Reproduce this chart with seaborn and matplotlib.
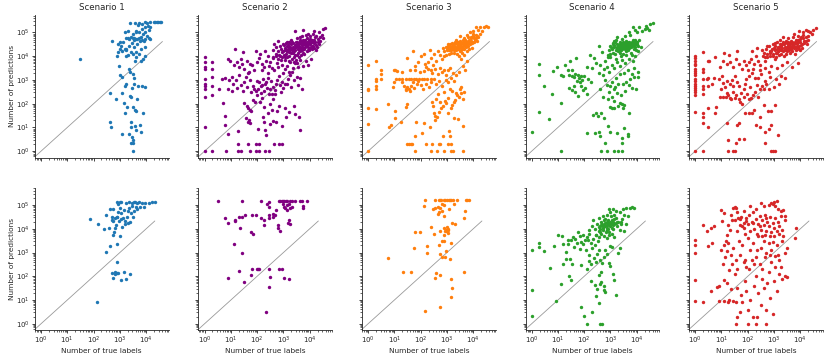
import matplotlib
matplotlib.use("Agg")
import matplotlib.pyplot as plt
import numpy as np
import pandas as pd
import seaborn as sns

# points, as (log10 true labels, log10 predictions)
s1_top = [(1.49,3.89),
    (4.16,5.44),(4.28,5.46),(4.40,5.46),(4.52,5.46),(4.58,5.46),(4.45,5.45),(4.34,5.44),
    (3.39,5.39),(3.58,5.42),(3.73,5.39),(3.97,5.44),(3.85,5.35),(3.95,5.25),(4.07,5.28),(4.16,5.21),(4.05,5.38),(3.70,5.30),
    (3.18,5.0),(3.30,5.07),(3.49,4.93),(3.61,5.07),(3.73,5.0),(3.85,5.14),(3.97,5.03),(4.03,4.86),(3.79,4.79),(3.55,4.75),
    (3.42,4.83),(3.67,4.72),(3.91,4.65),(3.30,4.75),(4.10,5.10),(3.60,5.0),(3.88,4.95),
    (3.24,4.75),(3.36,4.72),(3.49,4.75),(3.61,4.72),(3.73,4.75),(3.85,4.70),(3.97,4.72),(4.09,4.75),(3.55,4.68),(3.78,4.66),
    (2.69,4.65),(2.94,4.51),(3.12,4.58),(3.18,4.31),(3.06,4.44),(3.22,4.28),(3.36,4.44),(3.55,4.38),(3.67,4.51),(3.79,4.31),
    (3.97,4.38),(4.16,4.72),(3.45,4.55),(3.02,4.62),
    (2.94,4.17),(3.0,4.31),(3.10,4.24),(3.24,4.31),(3.42,4.17),(3.61,4.19),(3.73,4.10),(3.97,4.03),(3.88,3.89),(3.24,4.0),
    (3.30,4.06),(2.90,4.0),(3.61,3.96),(3.57,3.78),(3.79,3.82),(3.50,4.10),
    (2.96,3.57),(3.36,3.47),(3.39,3.33),(3.49,3.25),(3.0,3.19),(3.10,3.125),(3.55,3.10),
    (3.22,2.81),(3.18,2.76),(3.52,2.81),(3.70,2.76),(3.85,2.75),(3.97,2.71),(3.46,2.67),
    (2.63,2.47),(3.10,2.47),(3.39,2.33),(3.42,2.30),(3.67,2.22),(2.85,2.22),
    (3.15,2.01),(3.27,1.88),(3.49,1.88),(3.56,1.74),(3.63,1.71),(3.89,1.63),(3.20,1.60),
    (2.61,1.22),(2.66,1.04),(3.08,0.72),(3.41,1.22),(3.41,1.0),(3.58,1.08),(3.75,1.11),(3.80,0.81),(3.61,0.875),
    (3.34,0.72),(3.45,0.58),(3.49,0.49),(3.44,0.33),(3.51,0.33),(3.49,0.0)]

s2_top = [(0,3.96),(0,3.75),(0,3.54),(0,3.47),(0,3.06),(0,2.85),(0,2.75),(0,2.64),(0,2.29),(0,1.04),(0,0),
    (0.3,3.75),(0.3,3.47),(0.3,3.12),(0.3,2.75),(0.3,2.36),(0.3,0),
    (0.83,0),(1.26,0),(1.38,0),(1.74,0),(1.96,0),(2.09,0),(2.29,0),(2.45,0),
    (1.26,0.3),(1.65,0.3),(1.96,0.3),(2.09,0.3),(2.66,0.3),(2.84,0.3),(2.94,0.3),
    (0.79,1.5),(0.79,1.11),(0.91,0.72),(1.29,0.86),(1.58,1.39),(1.65,1.25),(1.74,1.18),(1.70,1.30),(2.02,0.94),(2.23,1.42),
    (2.27,1.25),(2.29,0.9),(2.33,0.69),(2.48,1.14),(2.62,1.28),(2.72,1.22),(2.96,1.08),(3.39,1.92),(3.60,1.46),(3.62,0.9),
    (3.2,1.67),(3.05,1.81),(2.84,1.92),(2.75,1.70),(2.55,1.75),(1.52,2.01),(1.61,1.92),(1.67,1.81),(1.72,1.72),(1.78,1.69),
    (1.85,2.15),(1.93,2.06),(2.10,2.06),(2.17,2.25),(2.26,1.88),(2.48,1.97),(2.60,2.22),(2.67,2.39),(0.7,2.01),(0.55,2.6),
    (3.10,1.45),(3.45,1.55),(2.40,1.60),
    (0.67,3.06),(0.76,3.08),(0.94,3.01),(1.03,3.12),(1.19,2.99),(1.31,3.22),(1.38,2.78),(1.5,2.92),(1.56,3.12),(1.65,3.31),
    (1.74,2.99),(1.84,2.75),(1.89,2.64),(1.96,2.53),(2.01,2.36),(2.09,2.92),(2.13,2.75),(2.21,3.06),(2.29,2.85),(2.38,2.67),
    (2.45,2.43),(2.53,2.97),(2.62,2.72),(2.69,2.58),(2.77,3.0),(2.86,2.78),(2.96,2.92),(3.08,2.81),(3.18,3.06),(3.26,3.19),
    (3.34,3.33),(3.41,2.99),(3.50,3.12),(0.91,2.61),(1.05,2.53),(1.22,2.68),(1.45,2.55),(1.60,2.70),(2.05,2.60),(2.15,2.45),
    (2.25,2.55),(2.35,2.90),(2.50,2.60),(2.58,2.40),(2.72,2.85),(2.85,3.15),(2.90,2.50),(3.00,2.65),(3.15,2.85),(3.30,2.70),
    (3.55,2.80),(3.65,3.10),(3.70,2.60),(1.10,2.85),(1.75,2.50),(2.40,3.10),(2.20,2.80),(2.00,2.95),
    (0.88,3.89),(0.98,3.82),(1.13,3.61),(1.23,3.75),(1.31,3.54),(1.44,3.68),(1.52,3.47),(1.62,3.82),(1.72,3.68),(1.80,3.61),
    (1.89,3.40),(1.98,3.75),(2.08,3.92),(2.17,3.68),(2.26,3.54),(2.35,3.82),(2.42,4.03),(2.50,3.75),(2.60,3.92),(2.70,4.10),
    (2.78,3.89),(2.87,4.00),(2.96,4.17),(3.05,3.96),(3.14,4.24),(3.24,4.31),(1.15,4.31),(1.47,4.17),(1.95,4.24),(2.55,3.50),
    (2.65,3.40),(2.80,3.55),(2.95,3.65),(3.05,3.45),(3.15,3.60),(3.25,3.75),(3.35,3.50),(3.45,3.70),(3.55,3.55),(3.65,3.85),
    (3.75,3.60),(3.85,3.80),(3.95,3.65),(4.05,3.90),(2.20,3.40),(2.40,3.30),(1.70,3.35),(1.40,3.90),(2.10,4.10),(2.30,4.20),
    (2.45,3.60),(2.75,3.70),(2.90,3.85),(3.00,3.30),(3.20,3.35),
    (2.80,4.65),(3.45,5.07),(3.75,5.11),(4.18,5.05),(4.35,5.00),(4.50,5.14),(4.58,5.18),(4.38,4.79),(4.25,4.85),(4.45,4.90),
    (3.00,4.20),(3.05,4.35),(3.10,4.10),(3.15,4.45),(3.20,4.00),(3.25,4.25),(3.30,4.50),(3.35,4.15),(3.40,4.35),(3.45,4.05),
    (3.50,4.60),(3.55,4.30),(3.60,4.45),(3.65,4.20),(3.70,4.55),(3.75,4.35),(3.80,4.65),(3.85,4.45),(3.90,4.75),(3.95,4.50),
    (4.00,4.62),(4.05,4.40),(4.10,4.70),(4.15,4.55),(4.20,4.80),(4.30,4.60),(4.40,4.65),(4.50,4.75),
    (3.02,4.05),(3.12,4.25),(3.22,4.40),(3.32,4.30),(3.42,4.20),(3.52,4.45),(3.62,4.35),(3.72,4.25),(3.82,4.55),(3.92,4.40),
    (4.02,4.50),(4.12,4.45),(4.22,4.60),(3.38,4.55),(3.48,4.40),(3.58,4.55),(3.68,4.65),(3.78,4.50),(3.88,4.60),(3.98,4.70),
    (4.08,4.60),(3.28,4.12),(3.18,4.30),(2.92,4.30),(2.85,4.05),(2.95,3.95),(3.08,3.85),(3.58,3.95),(3.68,4.05),(3.78,4.10),
    (3.88,4.20),(3.98,4.25),(4.08,4.30),(4.18,4.35),(4.28,4.40),(3.48,3.85),(3.40,3.95),(3.62,4.80),(3.72,4.85),(3.85,4.90),
    (3.50,4.75),(3.30,4.70),(3.20,4.60),(3.10,4.55),(2.70,4.40),(2.60,4.25),(2.65,4.50),(3.92,4.95),(4.02,4.85),(4.12,4.95),
    (4.25,4.25),(4.35,4.50),(3.45,4.25),(3.55,4.15),(3.65,4.55),(3.75,4.70),(3.35,4.40),(3.25,4.55),(3.15,4.20),(3.60,4.25),
    (3.70,4.40),(3.80,4.30),(3.90,4.50),(4.00,4.35),
    (3.03,4.48),(3.13,4.62),(3.23,4.18),(3.33,4.62),(3.43,4.48),(3.53,4.05),(3.63,4.68),(3.73,4.12),(3.83,4.38),(3.93,4.28),
    (4.03,4.72),(4.13,4.62),(4.23,4.48),(4.33,4.72),(3.07,4.28),(3.17,4.48),(3.27,4.38),(3.37,4.22),(3.47,4.62),(3.57,4.42),
    (3.67,4.32),(3.77,4.58),(3.87,4.52),(3.97,4.58),(4.07,4.42),(4.17,4.68),(3.52,4.52),(3.62,4.62),(3.72,4.48),(3.82,4.70),
    (2.98,4.52),(2.88,4.45),(2.78,4.20),(2.72,4.02),(2.62,3.98),(3.12,3.95),(3.22,3.80),(3.32,3.90),(3.42,3.75),(3.52,3.70)]

s3_top = [(0,3.61),(0,2.64),(0,2.57),(0,1.83),(0,1.14),(0,0),
    (0.3,3.82),(0.3,3.06),(0.3,2.94),(0.3,2.75),(0.3,2.61),(0.3,1.78),
    (0.49,3.44),(0.49,3.26),(0.49,3.06),(0.77,1.97),(0.79,1.04),(0.89,1.11),(1.01,1.39),(1.04,1.69),(1.26,1.25),(1.46,1.88),(1.50,1.97),
    (1.77,0),(2.38,0),(2.62,0),(2.87,0),(3.17,0),(3.23,0),(3.6,0),
    (1.5,0.3),(1.55,0.3),(1.62,0.3),(1.67,0.3),(2.2,0.3),(2.44,0.3),(2.68,0.3),(2.74,0.3),(3.05,0.3),(3.17,0.3),
    (1.77,0.62),(2.04,0.76),(1.83,1.22),(2.11,1.18),(2.35,1.04),(2.84,0.62),(3.09,0.86),(3.12,0.62),(3.6,1.08),(3.41,1.36),(3.25,1.39),
    (2.5,1.6),(2.53,1.5),(2.55,1.32),(2.62,1.45),(2.71,1.67),(2.79,1.81),(2.85,1.92),(2.97,2.01),(3.05,1.6),(3.14,1.81),
    (3.2,1.94),(3.25,2.06),(3.32,2.15),(3.38,2.36),(3.54,2.71),(3.48,2.61),(3.35,2.47),(3.2,2.53),(3.05,2.25),(2.93,2.11),
    (2.74,2.08),(2.6,2.22),(2.45,2.06),(2.48,1.92),(2.65,2.40),(3.45,2.30),(3.55,2.45),(3.65,2.50),(3.62,2.20),(2.90,2.50),(3.10,2.60),
    (1.06,3.06),(1.16,3.06),(1.28,3.06),(1.43,3.06),(1.55,3.06),(1.65,3.06),(1.74,3.06),(1.83,3.06),(1.95,3.06),(2.04,3.06),
    (2.13,3.06),(2.23,3.06),(2.38,3.06),(2.50,3.06),(1.43,2.64),(1.46,2.57),(1.55,2.61),(1.65,2.75),(1.74,2.67),(1.86,2.81),
    (1.38,2.75),(1.50,2.70),(1.60,2.55),(1.30,2.90),(1.70,2.90),(1.90,2.95),(2.00,2.80),(2.20,2.85),(2.30,2.70),(2.40,2.90),
    (2.60,2.85),(2.70,2.95),(2.80,2.75),(2.95,3.00),(3.05,2.90),(3.15,3.10),(3.25,2.95),(2.10,2.60),(0.95,2.70),(1.00,2.90),
    (0.97,3.40),(1.04,3.40),(1.10,3.37),(1.28,3.33),(1.59,3.40),(1.77,3.44),(1.96,3.33),(2.13,3.36),(2.28,3.47),(2.40,3.44),
    (2.56,3.47),(2.72,3.50),(2.87,3.44),(3.05,3.40),(3.23,3.30),(2.20,3.55),(2.45,3.30),(2.65,3.25),(2.80,3.35),(2.95,3.20),
    (3.10,3.50),(3.35,3.20),(3.45,3.35),(3.60,3.60),(3.75,3.80),(3.68,3.40),
    (1.50,3.92),(1.71,4.20),(1.90,3.75),(2.02,4.03),(2.14,4.10),(2.16,3.68),(2.28,3.75),(2.40,3.92),(2.46,3.61),(2.52,4.10),
    (2.65,4.20),(2.74,4.06),(2.83,3.89),(2.60,3.80),(2.35,4.25),(1.80,3.60),(2.90,4.00),
    (2.95,4.40),(3.00,4.25),(3.05,4.50),(3.10,4.30),(3.15,4.15),(3.20,4.45),(3.25,4.35),(3.30,4.60),(3.35,4.25),(3.40,4.50),
    (3.45,4.35),(3.50,4.65),(3.55,4.40),(3.60,4.55),(3.65,4.30),(3.70,4.70),(3.75,4.50),(3.80,4.80),(3.85,4.60),(3.90,4.75),
    (3.95,4.55),(4.00,4.85),(4.05,4.70),(4.10,4.90),(4.15,4.65),(4.20,4.80),
    (3.02,4.35),(3.12,4.40),(3.22,4.30),(3.32,4.40),(3.42,4.30),(3.52,4.25),(3.62,4.45),(3.72,4.40),(3.82,4.45),(3.92,4.65),
    (4.02,4.60),(3.28,4.15),(3.38,4.10),(3.48,4.20),(3.58,4.15),(3.18,4.55),(3.08,4.10),(2.98,4.05),(3.45,4.00),(3.55,3.90),
    (3.65,4.05),(3.75,4.20),(3.85,4.30),(3.95,4.35),(3.35,4.70),(3.50,4.85),(3.65,4.75),(3.78,4.90),(3.88,5.00),(3.98,4.95),
    (4.12,4.75),(4.25,4.95),(3.28,4.45),(3.40,4.40),(3.60,4.35),(3.70,4.55),(3.80,4.60),(3.45,4.50),(3.55,4.60),
    (3.03,4.45),(3.13,4.50),(3.23,4.40),(3.33,4.55),(3.43,4.62),(3.53,4.52),(3.63,4.62),(3.73,4.65),(3.83,4.70),(3.93,4.80),
    (4.03,4.75),(4.13,4.85),(3.07,4.28),(3.17,4.35),(3.27,4.25),(3.37,4.35),(3.47,4.45),(3.57,4.32),(3.67,4.48),(3.77,4.55),
    (3.87,4.50),(3.97,4.62),(3.40,4.58),(3.50,4.50),(3.60,4.70),(3.70,4.62),(3.25,4.50),(3.15,4.25),(2.90,4.20),(2.85,4.35),
    (4.09,5.21),(4.27,5.25),(4.40,5.21),(4.48,5.28),(4.57,5.21),(4.20,5.10),(4.35,5.05),(4.00,5.05)]

s4_top = [(0,0.83),(0.3,1.67),(0.3,3.68),(0.3,3.22),(0.46,2.75),(0.68,1.36),(0.77,2.43),(0.83,3.36),(0.98,3.54),(1.1,0),
    (1.13,2.01),(1.1,3.22),(1.18,3.18),(1.26,3.61),(1.45,3.80),
    (1.44,3.22),(1.52,3.17),(1.60,3.12),(1.66,3.26),(1.76,3.22),(1.81,3.08),(1.88,3.15),(1.93,2.99),(2.01,3.17),(1.85,2.92),
    (1.72,2.94),(1.60,2.75),(1.44,2.67),(1.52,2.57),(1.66,2.50),(1.76,2.33),(1.88,2.75),(1.96,2.57),(2.04,2.67),(2.10,2.40),
    (1.40,3.40),(1.55,3.40),(2.15,3.05),(2.25,2.90),
    (2.35,1.53),(2.44,1.60),(2.54,1.50),(2.65,1.60),(2.75,1.39),(2.4,0.76),(2.11,0.76),(2.55,0.83),(2.62,0.62),(2.81,0.35),
    (2.65,0),(2.87,0),(3.13,0),(3.29,0),(3.45,0),(2.9,1.08),(3.0,0.81),(3.24,0.76),(3.42,0.56),(3.42,0.35),(3.51,0.97),
    (3.67,0.72),(3.67,0.65),
    (3.0,1.88),(3.06,1.81),(3.12,1.81),(3.38,2.01),(3.44,1.97),(3.50,1.94),(3.48,1.81),(3.70,1.60),(3.30,1.90),
    (2.87,2.78),(3.0,2.75),(3.06,2.92),(3.12,2.64),(3.18,2.71),(3.30,2.81),(3.48,2.85),(3.60,2.92),(3.70,2.78),(3.82,2.67),
    (3.96,2.61),(3.75,3.06),(3.91,3.12),(4.03,3.12),(2.60,2.60),(2.70,2.30),(2.95,2.50),(3.25,2.45),(3.40,2.35),(3.55,2.55),
    (2.80,3.00),(3.20,3.10),(3.35,3.25),(3.50,3.30),(3.65,3.40),(3.90,3.50),(4.05,3.35),(3.80,3.25),(2.90,2.20),(3.05,2.30),(3.15,2.10),
    (1.70,3.92),(2.23,4.06),(2.38,3.92),(2.55,4.44),(2.67,4.17),(2.79,3.82),(2.89,3.96),(2.98,4.10),(2.62,3.61),(2.74,3.47),
    (2.86,3.54),(2.45,3.70),(2.30,3.50),(2.10,3.55),(2.55,3.30),(2.70,3.20),(2.95,3.35),(3.05,3.65),(3.15,3.50),(3.25,3.75),
    (3.35,3.60),(3.45,3.85),(3.55,3.70),(3.70,3.90),(3.85,3.80),(3.95,4.00),
    (3.00,4.45),(3.05,4.30),(3.10,4.55),(3.15,4.40),(3.20,4.25),(3.25,4.50),(3.30,4.35),(3.35,4.60),(3.40,4.45),(3.45,4.30),
    (3.50,4.55),(3.55,4.40),(3.60,4.65),(3.65,4.50),(3.70,4.35),(3.75,4.55),(3.80,4.45),(3.85,4.70),(3.90,4.50),(3.95,4.40),
    (4.00,4.60),(4.05,4.45),(4.10,4.70),
    (3.08,4.15),(3.18,4.10),(3.28,4.20),(3.38,4.15),(3.48,4.10),(3.58,4.20),(3.68,4.25),(3.78,4.15),(3.88,4.30),(3.98,4.25),
    (3.12,4.65),(3.22,4.70),(3.32,4.48),(3.42,4.72),(3.52,4.45),(3.62,4.38),(3.72,4.62),(3.82,4.60),(3.92,4.68),(4.02,4.50),
    (3.35,4.40),(3.45,4.50),(3.55,4.30),(3.65,4.42),(3.75,4.48),(3.40,4.25),(3.50,4.35),(3.60,4.50),(3.70,4.55),(2.95,4.25),
    (2.90,4.05),(3.00,3.95),(3.20,3.90),(3.40,4.00),(3.60,4.05),(3.80,4.05),(4.05,4.20),(4.15,4.40),(3.25,4.80),(3.55,4.85),(3.75,4.90),
    (3.03,4.38),(3.13,4.48),(3.23,4.38),(3.33,4.28),(3.43,4.38),(3.53,4.48),(3.63,4.58),(3.73,4.45),(3.83,4.52),(3.93,4.58),
    (3.08,4.50),(3.18,4.58),(3.28,4.42),(3.38,4.52),(3.48,4.62),(3.58,4.55),(3.68,4.32),(3.78,4.38),(3.88,4.42),(3.98,4.52),
    (3.45,4.42),(3.55,4.48),(3.65,4.38),(3.35,4.32),(3.25,4.35),
    (3.85,5.25),(4.1,5.21),(4.34,5.28),(4.52,5.35),(4.62,5.39),(4.20,5.05),(4.30,5.15),(4.00,5.00),(3.95,5.10),(4.40,5.20),
    (4.45,5.10),(3.70,5.00)]

s5_top = [(0,4.03),(0,3.92),(0,3.78),(0,3.68),(0,3.61),(0,3.47),(0,3.36),(0,3.31),(0,3.19),(0,3.06),(0,2.94),(0,2.85),
    (0,2.75),(0,2.67),(0,2.57),(0,2.5),(0,2.36),(0,1.67),(0,0),
    (0.3,4.17),(0.3,3.47),(0.3,3.33),(0.3,3.06),(0.3,2.75),(0.3,2.61),(0.3,2.43),(0.3,1.6),(0.3,1.46),(0.3,1.18),(0.3,0),
    (0.5,3.82),(0.5,3.08),(0.5,2.75),(0.5,1.83),(0.49,1.0),
    (1.26,0),(1.44,0),(1.5,0),(2.9,0),(2.96,0),(3.02,0),
    (1.23,1.18),(1.26,0.49),(1.56,0.35),(1.68,0.53),(1.84,0.53),(1.6,1.11),(1.68,1.18),(1.88,1.6),(2.03,1.6),(2.15,1.6),
    (2.33,1.11),(2.48,1.04),(2.60,1.94),(2.66,0.83),(2.82,0.94),(2.87,1.11),(3.15,0.67),(2.66,0.35),(2.9,1.69),(2.78,1.69),
    (3.02,1.94),(2.25,1.75),(2.45,1.45),
    (0.79,1.88),(0.77,1.60),(0.95,2.29),(1.07,2.29),(1.16,2.29),(1.20,2.47),(1.26,2.36),(1.32,2.25),(1.38,2.18),(1.44,2.5),
    (1.50,2.25),(1.56,2.36),(1.65,2.22),(1.72,2.08),(1.80,1.97),(1.86,2.29),(1.98,2.43),(2.04,2.18),(2.12,2.25),(2.20,2.36),
    (2.29,2.50),(2.38,2.29),(2.46,2.64),(2.55,2.75),(2.60,2.61),(2.70,2.85),
    (0.46,3.06),(0.65,2.82),(0.71,3.10),(0.89,3.03),(1.01,3.17),(1.07,2.89),(1.23,2.96),(1.32,2.82),(1.40,2.99),(1.50,3.15),
    (1.59,2.92),(1.68,2.75),(1.86,2.61),(1.95,3.03),(2.03,3.17),(2.16,3.31),(2.28,3.08),(2.40,3.10),(2.52,3.24),(2.65,2.97),
    (2.84,3.12),(3.06,3.03),(3.25,3.15),(3.43,3.10),(1.00,2.60),(1.15,2.70),(1.75,2.45),(2.10,2.70),(2.35,2.80),(2.80,2.60),
    (3.00,2.70),(3.20,2.85),(1.45,2.75),(1.90,2.85),
    (0.52,3.82),(0.77,3.96),(0.95,3.54),(1.07,3.82),(1.20,3.68),(1.32,3.75),(1.44,3.54),(1.56,3.89),(1.68,3.68),(1.77,3.47),
    (1.86,3.82),(1.95,3.61),(2.04,3.75),(2.13,3.89),(2.23,3.68),(2.31,4.03),(2.40,3.82),(2.48,3.61),(2.57,4.03),(2.65,3.82),
    (2.74,3.96),(2.84,4.15),(2.95,4.03),(3.05,3.89),(3.17,4.24),(2.00,3.40),(2.20,3.45),(2.45,3.40),(2.65,3.50),(2.80,3.35),
    (2.90,3.60),(3.10,3.50),(3.30,3.65),(3.50,3.75),(3.70,3.55),(3.90,3.70),(1.60,4.20),(1.30,4.05),(1.10,4.15),(2.15,4.20),
    (2.35,4.35),(2.55,4.25),
    (2.70,4.30),(2.80,4.45),(2.90,4.20),(3.00,4.35),(3.05,4.55),(3.10,4.15),(3.15,4.40),(3.20,4.05),(3.25,4.30),(3.30,4.50),
    (3.35,4.20),(3.40,4.40),(3.45,4.65),(3.50,4.30),(3.55,4.50),(3.60,4.15),(3.65,4.40),(3.70,4.60),(3.75,4.35),(3.80,4.55),
    (3.85,4.25),(3.90,4.70),(3.95,4.45),(4.00,4.60),(4.05,4.35),(4.10,4.75),(4.15,4.55),(4.20,4.65),(4.25,4.50),
    (2.85,4.00),(2.95,4.10),(3.08,3.95),(3.18,4.25),(3.28,4.10),(3.38,4.00),(3.48,4.20),(3.58,4.35),(3.68,4.20),(3.78,4.10),
    (3.88,4.40),(3.98,4.25),(4.08,4.50),(3.12,4.60),(3.22,4.70),(3.32,4.35),(3.42,4.55),(3.52,4.75),(3.62,4.55),(3.72,4.80),
    (3.82,4.70),(3.92,4.85),(4.02,4.80),(4.12,4.90),(2.75,4.10),(2.65,3.95),(2.60,4.15),(2.95,4.50),(3.35,4.80),(3.55,4.60),
    (3.65,4.30),(3.45,4.10),(3.75,4.45),(3.85,4.55),(3.95,4.30),(3.25,4.45),(3.15,4.20),(3.05,4.25),(3.40,4.30),(3.60,4.45),
    (3.03,4.42),(3.13,4.32),(3.23,4.52),(3.33,4.62),(3.43,4.25),(3.53,4.45),(3.63,4.65),(3.73,4.50),(3.83,4.40),(3.93,4.60),
    (4.03,4.48),(4.13,4.65),(3.08,4.12),(3.18,4.38),(3.28,4.28),(3.38,4.52),(3.48,4.38),(3.58,4.25),(3.68,4.52),(3.78,4.62),
    (3.88,4.52),(3.98,4.72),(2.93,4.30),(2.83,4.20),(2.73,4.42),(3.50,4.58),(3.70,4.38),(3.90,4.35),(4.20,4.80),(4.30,4.70),
    (3.76,4.93),(3.94,5.07),(4.12,5.0),(4.21,5.11),(4.37,5.03),(4.49,5.11),(4.58,5.17),(4.31,4.86),(4.45,4.95),(4.30,5.05)]

s1_bot = [(1.85,4.4),(2.18,4.19),(2.41,3.99),(2.57,4.03),(2.48,4.58),(2.63,4.82),(2.75,4.82),(2.69,4.51),(2.81,4.45),
    (2.75,4.31),(2.90,4.48),(2.94,4.72),(3.0,4.86),(3.06,4.65),(3.12,4.44),(3.18,4.31),(3.27,4.51),(3.36,4.86),(3.42,4.65),
    (3.49,4.51),(3.55,4.75),(3.61,4.93),(3.67,5.07),(3.73,5.14),(3.85,5.07),(3.97,5.10),(4.09,5.08),(4.21,5.11),(4.33,5.11),
    (3.91,4.93),(3.64,4.82),(3.76,4.93),(3.47,4.97),(3.30,4.75),(3.15,4.79),(2.94,5.03),(3.0,5.11),(2.88,5.11),(3.06,5.11),
    (3.22,5.08),(3.34,5.11),(3.47,5.08),(3.58,5.11),(3.52,5.14),
    (2.85,4.17),(2.81,4.03),(2.77,3.86),(2.75,3.75),(3.0,3.68),(2.90,3.36),(2.61,3.26),(2.48,3.03),(3.30,4.24),(3.39,4.28),
    (3.10,4.06),(2.98,4.31),(2.91,4.50),(3.05,4.40),(2.70,4.35),(3.20,4.20),
    (2.88,2.61),(2.69,2.15),(2.81,2.19),(2.88,2.15),(2.94,2.15),(2.81,2.08),(2.73,1.94),(3.06,1.83),(3.15,2.18),(3.22,1.88),
    (3.39,2.11),(2.14,0.93)]

s2_bot = [(0.5,5.19),(1.44,5.19),(2.13,5.19),(2.84,5.19),(2.87,5.19),(2.94,5.19),(2.99,5.19),(3.03,5.19),(3.09,5.19),
    (3.15,5.19),(3.24,5.19),(3.31,5.19),(3.45,5.19),(3.64,5.19),(3.7,5.19),(3.88,5.19),
    (2.38,5.03),(2.47,5.11),(2.45,4.92),(2.99,5.03),(3.03,4.93),(3.06,4.86),(3.15,5.0),(3.21,5.06),(3.24,4.86),(3.31,4.93),
    (3.73,4.86),(3.76,4.97),(3.12,4.78),(2.72,4.79),
    (0.78,4.44),(0.9,4.24),(1.15,4.38),(1.15,4.31),(1.32,4.51),(1.44,4.51),(1.53,4.58),(1.80,4.58),(1.96,4.58),(2.25,4.38),
    (2.45,4.44),(2.47,4.58),(2.62,4.61),(2.69,4.58),(2.60,4.51),(2.78,4.17),(2.81,4.03),(2.86,3.89),(2.25,4.17),(2.16,4.44),
    (1.36,4.03),(1.77,3.86),(1.83,3.78),(3.16,4.24),(3.21,4.38),(3.27,4.19),
    (1.11,3.36),(1.44,2.99),(1.32,2.22),(0.9,1.94),(1.52,1.78),(1.8,2.29),(2.0,2.29),(2.05,2.29),(2.08,2.29),(2.45,2.29),
    (2.84,2.29),(2.96,2.29),(1.75,2.06),(2.5,1.97),(3.02,1.92),(3.23,1.89),(2.47,1.53),(2.35,0.49)]

s3_bot = [(2.16,5.2),(2.56,5.2),(2.68,5.2),(2.72,5.2),(2.77,5.2),(2.87,5.2),(2.93,5.2),(3.01,5.2),(3.09,5.2),(3.13,5.2),
    (3.17,5.2),(3.23,5.2),(3.38,5.2),(3.72,5.2),(3.78,5.2),(3.84,5.2),
    (2.13,4.97),(2.56,4.86),(2.48,4.83),(2.65,4.93),(2.72,4.86),(2.80,5.03),(2.87,5.0),(2.68,4.72),(2.65,4.61),(2.87,4.54),
    (3.08,4.83),(3.25,5.03),(2.83,4.75),(3.70,4.75),(3.63,4.44),(3.20,4.24),(3.32,4.19),(3.03,4.00),(2.95,3.89),(2.99,3.92),
    (3.03,3.82),(2.95,3.96),(2.99,4.06),(2.92,3.89),(2.89,3.75),(2.72,3.92),(2.81,3.5),(2.87,3.5),(2.68,3.33),(3.17,3.4),
    (2.5,3.78),(1.99,3.86),(2.38,4.06),(1.77,3.86),(2.26,3.29),(1.74,3.19),(2.24,2.99),(2.72,2.94),(2.81,2.81),(2.92,2.81),
    (3.1,2.71),(2.98,3.06),(3.05,3.95),(2.90,4.05),
    (0.77,2.78),(1.31,2.19),(1.62,2.19),(2.6,2.15),(2.54,1.92),(2.75,2.04),(3.17,1.88),(3.21,1.5),(3.17,1.14),(3.66,2.19),
    (2.72,0.72),(2.16,0.53)]

s4_bot = [(0,3.12),(0,1.42),(0,0.31),(0.3,3.4),(0.3,3.25),(0.46,3.08),(0.7,2.36),(0.93,0.94),(0.85,3.26),(1.01,3.75),
    (1.17,3.68),(1.13,1.67),(1.2,2.53),(1.32,2.71),(1.38,3.54),(1.44,2.01),(1.5,1.83),(1.46,2.71),(1.55,2.50),(1.20,3.36),
    (1.30,3.03),(1.38,3.36),
    (1.50,3.54),(1.59,3.64),(1.65,3.58),(1.71,3.40),(1.83,3.68),(1.89,3.44),(1.96,3.38),(2.04,3.54),(2.10,3.65),(2.16,3.52),
    (2.26,3.40),(2.33,3.58),(2.40,3.33),(2.45,3.75),(2.52,3.50),(1.75,3.85),(1.95,3.75),(2.20,3.80),(2.30,3.20),(1.62,3.25),
    (1.85,3.15),(2.05,3.10),
    (1.87,0.72),(1.99,0.31),(2.09,0),(2.31,0.51),(2.56,0.86),(2.59,0),(2.68,0),(2.44,1.18),(2.49,1.46),(2.26,1.81),
    (2.40,1.65),(2.59,1.67),(2.65,1.78),(2.74,1.60),(2.77,1.42),(2.81,1.33),(3.08,2.08),(3.21,1.22),(3.15,1.85),(2.55,2.05),(2.65,2.20),
    (1.87,2.47),(2.09,2.29),(2.18,2.64),(2.26,2.50),(2.38,2.78),(2.50,2.92),(2.62,2.67),(2.68,2.58),(2.74,2.83),(2.87,2.92),
    (2.93,2.54),(2.99,2.43),(3.0,3.26),(3.07,3.22),(3.30,2.99),(3.38,3.19),(2.20,2.90),(2.45,2.60),(2.80,3.10),(2.55,3.10),
    (2.40,4.00),(2.50,4.20),(2.55,3.90),(2.60,4.10),(2.65,4.30),(2.70,3.95),(2.75,4.15),(2.80,4.40),(2.85,4.05),(2.90,4.25),
    (2.95,3.85),(3.00,4.10),(3.05,4.35),(3.10,4.00),(3.15,4.20),(3.20,4.45),(3.25,4.10),(3.30,4.30),(3.35,3.95),(2.45,3.75),
    (2.55,3.65),(2.65,3.80),(2.75,3.70),(2.85,3.60),(2.95,3.75),(3.05,3.80),(3.15,3.65),(2.58,4.45),(2.72,4.55),(2.88,4.60),
    (3.02,4.52),(3.12,4.60),(2.30,4.10),(2.20,3.95),(2.35,4.35),(2.62,4.00),(2.78,4.25),(2.92,4.00),(2.68,4.20),(2.82,3.85),
    (3.08,4.15),(2.98,4.30),(2.72,4.10),(2.86,4.15),(3.22,4.25),(3.40,4.20),(3.45,4.40),(3.50,3.90),(3.58,4.19),(3.40,4.30),
    (2.55,4.08),(2.65,4.18),(2.75,4.35),(2.85,4.28),(2.95,4.15),(3.05,4.22),(3.15,4.40),(3.25,4.30),(2.70,4.02),(2.80,4.12),
    (2.90,4.35),(3.00,4.25),(3.10,4.30),(2.60,3.85),(2.85,3.95),(3.05,4.05),
    (3.73,4.89),(3.82,4.93),(3.90,4.89),(3.58,4.86),(3.46,4.83),(3.35,4.70),(3.20,4.75),(3.00,4.70),(2.95,4.85),(3.10,4.85),
    (3.50,4.60),(3.65,4.55)]

s5_bot = [(0,3.54),(0,3.33),(0,2.99),(0,1.83),(0,0.97),(0.3,0.9),(0.3,4.17),(0.46,3.89),(0.5,3.26),(0.65,3.4),(0.62,4.03),
    (0.71,4.1),(0.62,1.39),(0.83,1.53),(0.89,1.6),(0.91,0.94),
    (0.99,4.79),(1.11,4.65),(1.11,3.33),(1.17,3.47),(1.04,4.31),(1.20,3.06),(1.22,3.75),(1.26,4.17),(1.34,3.96),(1.40,4.38),
    (1.44,4.86),(1.50,4.93),(1.56,4.89),(1.52,4.38),(1.62,4.44),(1.72,4.41),(1.77,4.10),(1.84,4.24),(1.86,4.03),(1.93,4.31),
    (1.05,2.5),(1.10,1.85),(1.20,1.70),(1.30,2.25),(1.35,1.45),(1.40,2.50),(1.50,2.10),(1.60,1.50),(1.45,0.95),(1.55,0.90),
    (1.60,0.30),(1.70,0.50),(1.75,1.20),(1.80,0.90),(1.85,2.60),(1.90,1.80),(1.95,1.40),(2.00,0.60),(2.05,2.30),(2.10,1.00),
    (2.15,2.70),(2.20,0.30),(2.25,1.60),(2.30,2.00),(2.35,0.30),(2.40,1.30),(2.45,2.50),(2.50,0.80),(2.55,1.90),(2.60,1.50),
    (2.65,2.80),(2.70,0.60),(2.75,1.70),(2.80,2.20),(2.85,1.10),(2.90,2.60),(2.95,0.40),(3.00,1.80),(3.05,2.40),(3.10,1.40),
    (3.15,2.90),(3.20,2.10),(3.30,1.90),(3.40,2.00),(2.30,0.00),(2.70,0.00),(1.55,0.00),(2.00,0.00),(1.25,0.90),(1.10,0.95),
    (1.30,1.00),(3.50,1.95),
    (1.00,3.10),(1.15,2.80),(1.25,3.40),(1.35,2.90),(1.45,3.20),(1.55,2.70),(1.65,3.50),(1.70,2.90),(1.80,3.30),(1.90,2.70),
    (2.00,3.60),(2.10,3.10),(2.20,3.40),(2.30,2.80),(2.40,3.70),(2.50,3.20),(2.60,3.50),(2.70,3.00),(2.80,3.40),(2.90,3.10),
    (3.00,3.70),(3.10,3.30),(3.20,2.70),(3.30,3.50),(3.40,3.00),(3.50,3.20),(3.80,3.60),(3.85,4.05),(1.60,2.30),(1.95,2.40),
    (2.25,2.50),(2.55,2.30),(2.85,2.90),(3.05,2.85),(3.25,2.40),(2.35,3.10),(2.65,3.75),(2.95,3.45),
    (1.60,3.90),(1.75,4.50),(1.90,3.80),(2.00,4.20),(2.05,4.60),(2.10,3.90),(2.15,4.30),(2.20,4.70),(2.25,4.00),(2.30,4.40),
    (2.35,3.80),(2.40,4.20),(2.45,4.55),(2.50,3.95),(2.55,4.35),(2.60,4.15),(2.65,4.60),(2.70,3.90),(2.75,4.30),(2.80,4.10),
    (2.85,4.50),(2.90,3.85),(2.95,4.25),(3.00,4.05),(3.05,4.45),(3.10,3.90),(3.15,4.30),(3.20,4.10),(3.25,4.55),(3.30,3.95),
    (3.40,4.35),(2.90,5.10),(2.95,5.05),(3.00,5.12),(3.05,4.95),(3.10,5.15),(3.15,4.85),(2.80,5.00),(2.60,4.95),(2.50,5.10),
    (2.30,4.85),(2.10,4.95),(1.85,4.75),(1.60,4.70),(1.35,4.60),(3.25,4.75),(3.35,4.80),(3.40,4.55),(2.45,4.10),(2.70,4.45),
    (2.55,3.70),(2.85,3.70),(3.20,3.80),(3.35,3.70),(1.95,4.45),(2.20,4.25),(1.70,4.15)]

titles = ["Scenario 1", "Scenario 2", "Scenario 3", "Scenario 4", "Scenario 5"]
colors = ["#1f77b4", "purple", "#ff7f0e", "#2ca02c", "#d62728"]
x_decades = [1, 10, 100, 1000, 10000]
y_decades = [1, 10, 100, 1000, 10000, 100000]
rows = [[s1_top, s2_top, s3_top, s4_top, s5_top],
        [s1_bot, s2_bot, s3_bot, s4_bot, s5_bot]]

sns.set_style("ticks")
plt.rcParams["font.family"] = ["DejaVu Sans"]

fig, axes = plt.subplots(2, 5, figsize=(8.31, 3.59), dpi=100, sharex=True, sharey=True)
fig.subplots_adjust(left=0.042, right=0.99, top=0.958, bottom=0.08, wspace=0.224, hspace=0.21)

for r, row in enumerate(rows):
    for c, pts in enumerate(row):
        ax = axes[r, c]
        df = pd.DataFrame(pts, columns=["lt", "lp"])
        df["true"] = 10 ** df["lt"]
        df["pred"] = 10 ** df["lp"]
        sns.scatterplot(data=df, x="true", y="pred", ax=ax, color=colors[c],
                        s=6, linewidth=0, legend=False)
        ax.set_xscale("log")
        ax.set_yscale("log")

xlim = axes[0, 0].get_xlim()
ylim = axes[0, 0].get_ylim()

for r, row in enumerate(rows):
    # reference line y = x, up to the largest true count of the row
    hi = max(10 ** max(p[0] for p in pts) for pts in row)
    for c in range(5):
        ax = axes[r, c]
        ax.set_xticks(x_decades)
        ax.set_yticks(y_decades)
        ax.set_xlim(xlim)
        ax.set_ylim(ylim)
        ax.plot([xlim[0], hi], [xlim[0], hi], color="#999999", lw=0.6, zorder=0)
        ax.tick_params(which="major", labelsize=5, length=2.5, width=0.6, pad=1)
        ax.tick_params(which="minor", length=1.4, width=0.5)
        for s in ax.spines.values():
            s.set_linewidth(0.6)
        if r == 1:
            ax.set_xlabel("Number of true labels", fontsize=5.3, labelpad=1)
        else:
            ax.xaxis.label.set_visible(False)
        if c == 0:
            ax.set_ylabel("Number of predictions", fontsize=5.3, labelpad=1)
        else:
            ax.yaxis.label.set_visible(False)
        if r == 0:
            ax.set_title(titles[c], fontsize=6.2, pad=4)

sns.despine(fig=fig)
fig.savefig("out.png", dpi=100)
